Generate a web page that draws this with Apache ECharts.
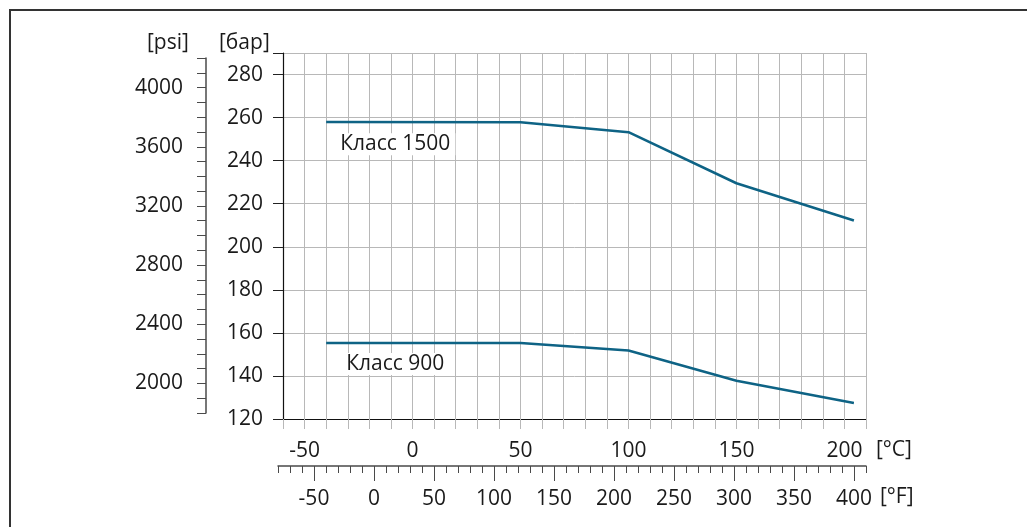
<!DOCTYPE html>
<html><head><meta charset="utf-8">
<script src="https://cdn.jsdelivr.net/npm/echarts@6/dist/echarts.min.js"></script>
<style>html,body{margin:0;padding:0;background:#fff}#c{width:1027px;height:527px}</style>
</head><body><div id="c"></div>
<script>
// ---- data ----
const tempC = [-40, 50, 100, 150, 204.4];
const class1500 = [258, 257.8, 253.2, 229.5, 212.2];
const class900 = [155.3, 155.3, 151.8, 137.8, 127.4];
const seriesNames = ['Класс 1500', 'Класс 900'];
const barTicks = [120, 140, 160, 180, 200, 220, 240, 260, 280];
const psiTicks = [2000, 2400, 2800, 3200, 3600, 4000];
const celsiusTicks = [-50, 0, 50, 100, 150, 200];
const fahrenheitTicks = [-50, 0, 50, 100, 150, 200, 250, 300, 350, 400];
const unitLabels = ['[psi]', '[бар]', '[°C]', '[°F]'];

// ---- styling / layout ----
const FONT = 'Open Sans';
const FS = 21;
const TXT = '#1a1a1a';
const GRIDC = '#b8b8b8';
const LINEC = '#0e6385';
const AXC = '#4a4a4a';
const plain = v => String(v);

const chart = echarts.init(document.getElementById('c'), null, {renderer: 'canvas'});

function mkSeries(name, vals, labelCoord) {
  return {
    name: name, type: 'line', xAxisIndex: 0, yAxisIndex: 0,
    data: tempC.map((t, i) => [t, vals[i]]),
    symbol: 'none', silent: true,
    lineStyle: {color: LINEC, width: 2.5},
    markPoint: {
      symbol: 'rect', symbolSize: 0, silent: true,
      data: [{coord: labelCoord, value: name}],
      label: {
        show: true, position: 'inside', formatter: name,
        fontFamily: FONT, fontSize: FS, color: TXT,
        backgroundColor: '#fff', padding: [1, 5, 0, 5]
      }
    }
  };
}

const option = {
  animation: false,
  backgroundColor: '#fff',
  textStyle: {fontFamily: FONT},
  grid: [
    {left: 283, top: 53, right: 161, bottom: 108},
    {left: 206, top: 58, width: 10, bottom: 114},
    {left: 278, right: 161, bottom: 61, height: 10}
  ],
  xAxis: [
    {
      gridIndex: 0, type: 'value', min: -60, max: 210, interval: 10,
      axisLine: {show: true, onZero: false, lineStyle: {color: '#111', width: 1.2}},
      axisTick: {show: true, length: 10, lineStyle: {color: GRIDC}},
      axisLabel: {customValues: celsiusTicks, formatter: plain, fontSize: FS, color: TXT, margin: 22, fontFamily: FONT},
      splitLine: {show: true, lineStyle: {color: GRIDC, width: 1}}
    },
    {gridIndex: 1, type: 'value', show: false, min: 0, max: 1},
    {
      gridIndex: 2, type: 'value', min: -80, max: 410, interval: 10, position: 'bottom',
      axisLine: {show: true, onZero: false, lineStyle: {color: AXC, width: 1.5}},
      axisTick: {show: true, length: 7, lineStyle: {color: AXC}},
      axisLabel: {show: false},
      splitLine: {show: false}
    },
    {
      gridIndex: 2, type: 'value', min: -80, max: 410, interval: 10, position: 'bottom',
      axisLine: {show: false, onZero: false},
      axisTick: {show: true, customValues: fahrenheitTicks, length: 15, lineStyle: {color: AXC}},
      axisLabel: {customValues: fahrenheitTicks, formatter: plain, fontSize: FS, color: TXT, margin: 23, fontFamily: FONT},
      splitLine: {show: false}
    }
  ],
  yAxis: [
    {
      gridIndex: 0, type: 'value', min: 120, max: 290, interval: 10,
      axisLine: {show: true, onZero: false, lineStyle: {color: '#111', width: 1.2}},
      axisTick: {show: true, customValues: barTicks.concat([290]), length: 10, lineStyle: {color: '#222'}},
      axisLabel: {customValues: barTicks, formatter: plain, fontSize: FS, color: TXT, margin: 20, fontFamily: FONT},
      splitLine: {show: true, lineStyle: {color: GRIDC, width: 1}}
    },
    {
      gridIndex: 1, type: 'value', min: 1800, max: 4200, interval: 100, position: 'left',
      axisLine: {show: true, onZero: false, lineStyle: {color: AXC, width: 1.5}},
      axisTick: {show: true, length: 9, lineStyle: {color: AXC}},
      axisLabel: {customValues: psiTicks, formatter: plain, fontSize: FS, color: TXT, margin: 23, fontFamily: FONT},
      splitLine: {show: false}
    },
    {gridIndex: 2, type: 'value', show: false, min: 0, max: 1}
  ],
  graphic: [
    {type: 'rect', shape: {x: 10, y: 10, width: 1200, height: 700}, style: {fill: 'none', stroke: '#333', lineWidth: 2}, silent: true},
    {type: 'text', x: 147, y: 43, style: {text: unitLabels[0], font: FS + 'px "' + FONT + '"', fill: TXT, verticalAlign: 'middle'}},
    {type: 'text', x: 219, y: 43, style: {text: unitLabels[1], font: FS + 'px "' + FONT + '"', fill: TXT, verticalAlign: 'middle'}},
    {type: 'text', x: 876, y: 450, style: {text: unitLabels[2], font: FS + 'px "' + FONT + '"', fill: TXT, verticalAlign: 'middle'}},
    {type: 'text', x: 880, y: 497, style: {text: unitLabels[3], font: FS + 'px "' + FONT + '"', fill: TXT, verticalAlign: 'middle'}}
  ],
  series: [
    mkSeries(seriesNames[0], class1500, [-8, 247.6]),
    mkSeries(seriesNames[1], class900, [-8, 145.6])
  ]
};
chart.setOption(option);
</script></body></html>
